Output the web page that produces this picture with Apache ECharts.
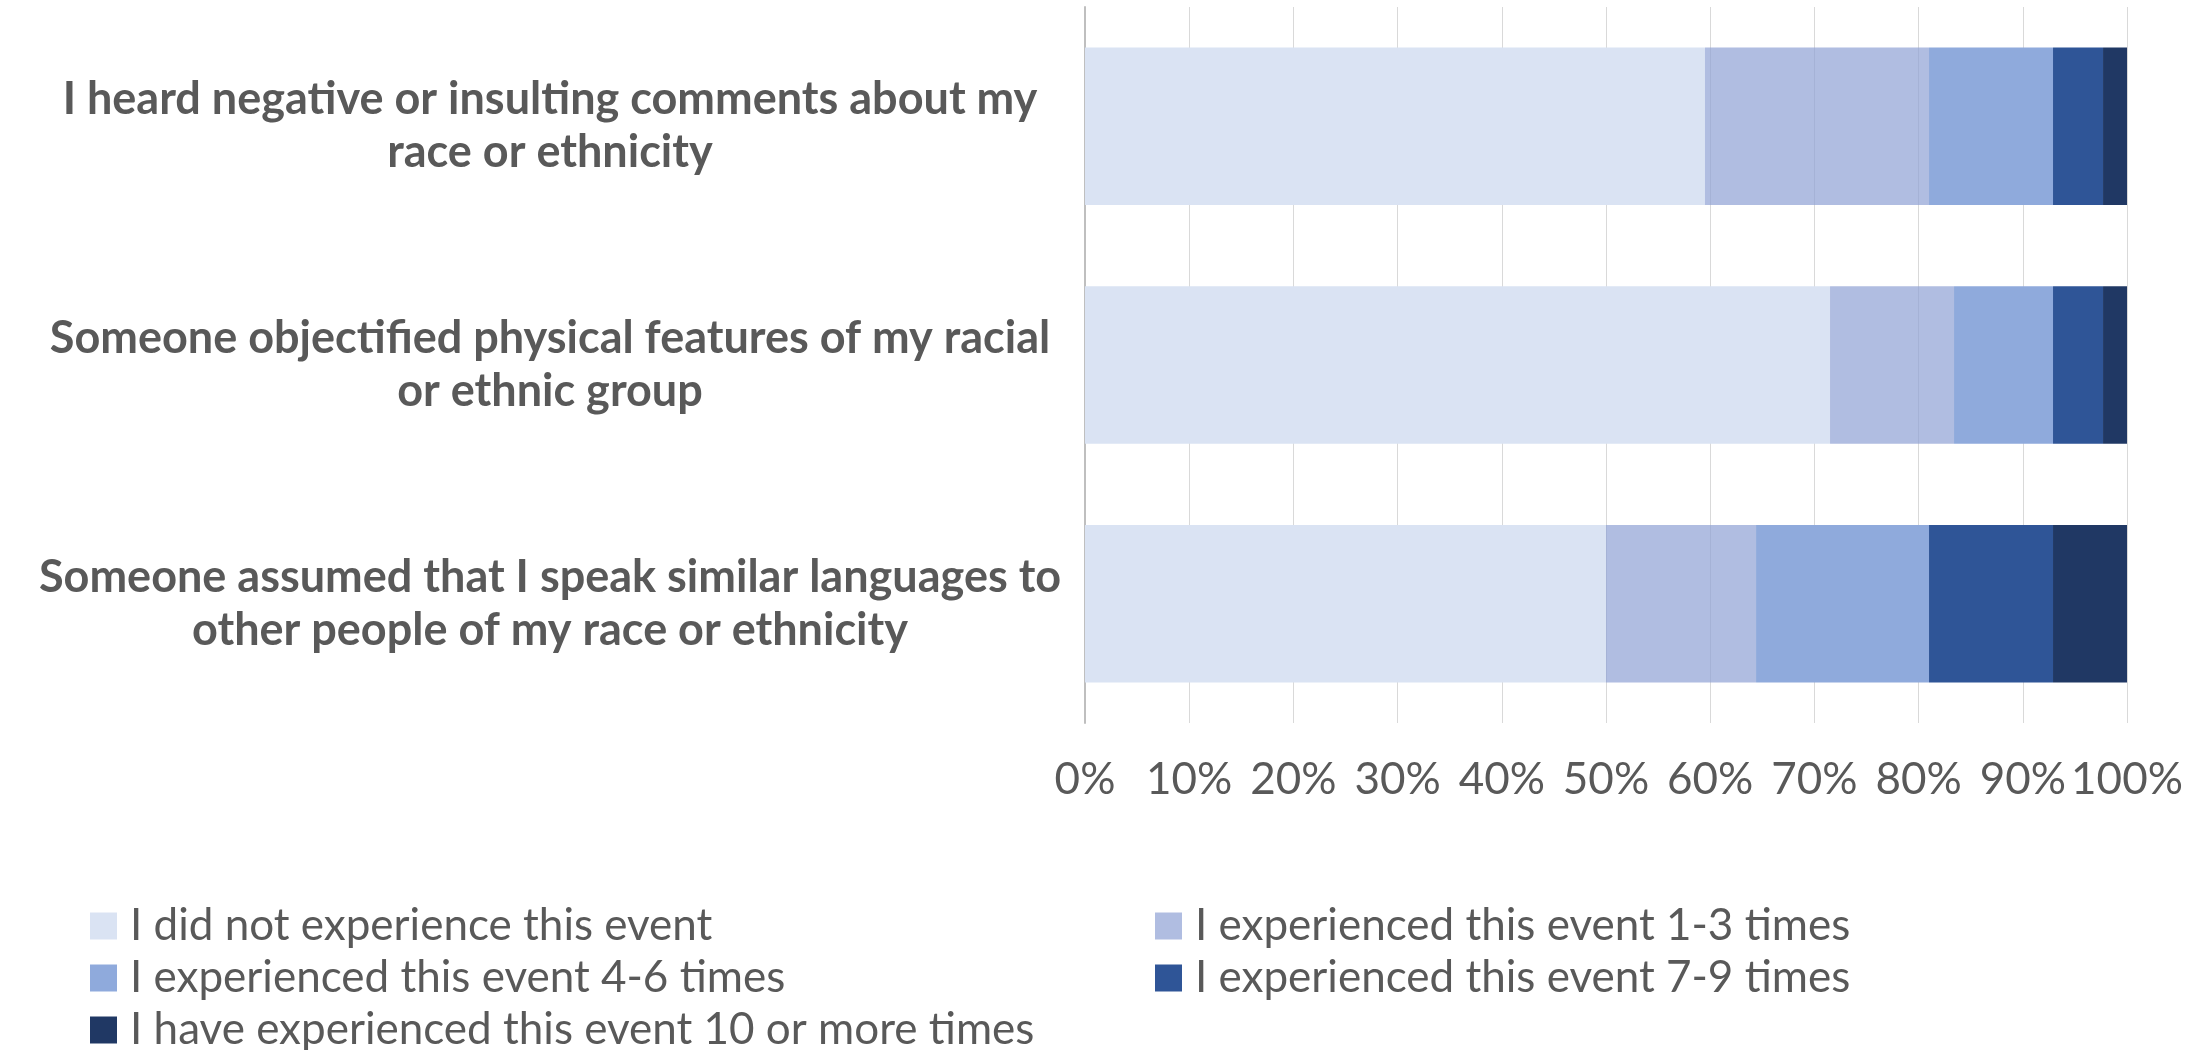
<!DOCTYPE html>
<html>
<head>
<meta charset="utf-8">
<script src="https://cdn.jsdelivr.net/npm/echarts@6/dist/echarts.min.js"></script>
<style>
html,body{margin:0;padding:0;background:#fff;}
#chart{width:2201px;height:1050px;}
</style>
</head>
<body>
<div id="chart"></div>
<script>
const categories = [
  "I heard negative or insulting comments about my\nrace or ethnicity",
  "Someone objectified physical features of my racial\nor ethnic group",
  "Someone assumed that I speak similar languages to\nother people of my race or ethnicity"
];
const seriesNames = [
  "I did not experience this event",
  "I experienced this event 1-3 times",
  "I experienced this event 4-6 times",
  "I experienced this event 7-9 times",
  "I have experienced this event 10 or more times"
];
const notExperienced = [59.5, 71.5, 50.0];
const times1to3 = [21.5, 11.9, 14.4];
const times4to6 = [11.9, 9.5, 16.6];
const times7to9 = [4.8, 4.8, 11.9];
const times10plus = [2.3, 2.3, 7.1];
const xTicks = [0, 10, 20, 30, 40, 50, 60, 70, 80, 90, 100];

const values = [notExperienced, times1to3, times4to6, times7to9, times10plus];
const colors = ['#DAE3F3', 'rgba(143,161,212,0.7)', '#8FAADC', '#2F5597', '#203864'];

const FONT = 'Lato';
const chart = echarts.init(document.getElementById('chart'));

// legend item placement: [left, top]
const legendSlots = [[90, 904], [1155, 904], [90, 956], [1155, 956], [90, 1008]];

chart.setOption({
  animation: false,
  backgroundColor: '#ffffff',
  grid: {left: 1085, top: 7, width: 1042, height: 716, containLabel: false},
  xAxis: {
    type: 'value', min: 0, max: 100, interval: 10,
    axisLine: {show: false},
    axisTick: {show: false},
    splitLine: {show: true, lineStyle: {color: '#D9D9D9', width: 1}},
    axisLabel: {
      formatter: v => xTicks.includes(v) ? v + '%' : '',
      fontFamily: FONT, fontSize: 44, color: '#595959', lineHeight: 44, margin: 35
    }
  },
  yAxis: {
    type: 'category', data: categories, inverse: true,
    axisLine: {show: true, lineStyle: {color: '#BFBFBF', width: 2}},
    axisTick: {show: false},
    axisLabel: {
      fontFamily: FONT, fontSize: 45, fontWeight: 'bold', color: '#595959',
      lineHeight: 53, align: 'center', margin: 535
    }
  },
  legend: seriesNames.map((name, i) => ({
    left: legendSlots[i][0], top: legendSlots[i][1],
    orient: 'horizontal',
    padding: 0,
    itemWidth: 27,
    itemHeight: 27,
    icon: 'rect',
    selectedMode: false,
    data: [name],
    textStyle: {fontFamily: FONT, fontSize: 44, color: '#595959', lineHeight: 44, padding: [0, 0, 0, 8]}
  })),
  series: seriesNames.map((name, i) => ({
    name: name,
    type: 'bar',
    stack: 'total',
    barCategoryGap: '34%',
    data: values[i],
    itemStyle: {color: colors[i]},
    emphasis: {disabled: true}
  }))
});
</script>
</body>
</html>
